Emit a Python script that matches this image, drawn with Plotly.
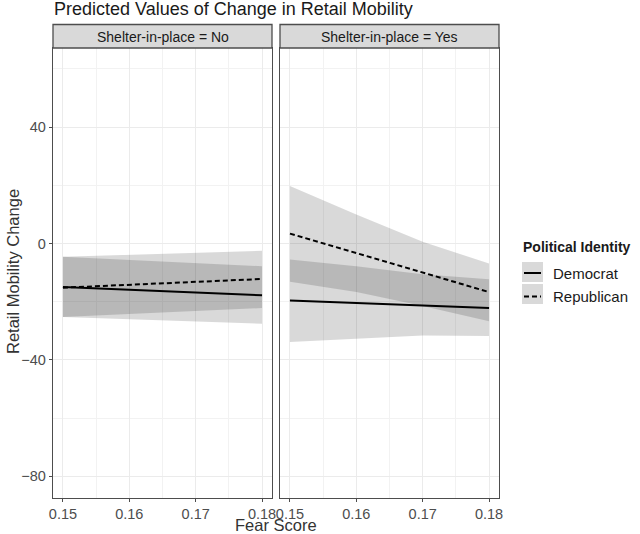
import plotly.graph_objects as go
from plotly.subplots import make_subplots

# fear score grid used for predictions
fear = [0.15, 0.16, 0.17, 0.18]

# Shelter-in-place = No
dem_no_fit = [-15.0, -15.9, -16.9, -17.8]
dem_no_lo = [-25.3, -26.1, -26.8, -27.6]
dem_no_hi = [-4.6, -5.7, -6.7, -7.8]
rep_no_fit = [-15.2, -14.2, -13.2, -12.2]
rep_no_lo = [-25.3, -24.3, -23.2, -22.2]
rep_no_hi = [-4.6, -3.9, -3.2, -2.5]

# Shelter-in-place = Yes
dem_yes_fit = [-19.6, -20.5, -21.3, -22.2]
dem_yes_lo = [-33.9, -32.7, -31.6, -31.8]
dem_yes_hi = [-5.5, -7.8, -10.6, -12.3]
rep_yes_fit = [3.4, -3.3, -10.0, -16.7]
rep_yes_lo = [-13.2, -16.7, -21.5, -26.7]
rep_yes_hi = [19.8, 10.0, 0.6, -6.9]

panels = ["Shelter-in-place = No", "Shelter-in-place = Yes"]
groups = ["Democrat", "Republican"]

# body margin is removed in the page (see write_html), so figure == window
W, H = 640, 534
FONT = "Liberation Sans, Arial, sans-serif"
BORDER = "#4D4D4D"


def px(x):
    return x / W


def py(y):
    return 1 - y / H


fig = make_subplots(rows=1, cols=2, shared_yaxes=True)

data = {
    1: [(dem_no_fit, dem_no_lo, dem_no_hi), (rep_no_fit, rep_no_lo, rep_no_hi)],
    2: [(dem_yes_fit, dem_yes_lo, dem_yes_hi), (rep_yes_fit, rep_yes_lo, rep_yes_hi)],
}
dashes = {"Democrat": "solid", "Republican": "5px,3px"}

for col in (1, 2):
    # ribbons first
    for fit, lo, hi in data[col]:
        fig.add_trace(go.Scatter(x=fear, y=lo, mode="lines", line=dict(width=0),
                                 showlegend=False, hoverinfo="skip"), row=1, col=col)
        fig.add_trace(go.Scatter(x=fear, y=hi, mode="lines", line=dict(width=0),
                                 fill="tonexty", fillcolor="rgba(0,0,0,0.15)",
                                 showlegend=False, hoverinfo="skip"), row=1, col=col)
    for g, (fit, lo, hi) in zip(groups, data[col]):
        fig.add_trace(go.Scatter(x=fear, y=fit, mode="lines", name=g,
                                 line=dict(color="black", width=2, dash=dashes[g]),
                                 showlegend=False), row=1, col=col)

# panel geometry in window pixels
left = [(53, 272), (280, 499)]
top, bottom = 48, 498
ydom = [py(bottom), py(top)]

for i, (x0, x1) in enumerate(left, start=1):
    fig.update_xaxes(domain=[px(x0), px(x1)], range=[0.1485, 0.1815],
                     tickvals=[0.15, 0.16, 0.17, 0.18],
                     ticktext=["0.15", "0.16", "0.17", "0.18"],
                     ticks="outside", ticklen=3, tickcolor=BORDER,
                     ticklabelstandoff=-1,
                     tickfont=dict(size=14.5, color="#4D4D4D", family=FONT),
                     showgrid=True, gridcolor="#EBEBEB", gridwidth=1,
                     minor=dict(tickvals=[0.155, 0.165, 0.175], showgrid=True,
                                gridcolor="#F2F2F2", gridwidth=0.6),
                     showline=True, mirror=True, linecolor=BORDER, linewidth=1.3,
                     zeroline=False, automargin=False, row=1, col=i)
    fig.update_yaxes(domain=ydom, range=[-87.5, 67.2],
                     tickvals=[40, 0, -40, -80],
                     ticks="outside" if i == 1 else "", ticklen=3, tickcolor=BORDER,
                     showticklabels=(i == 1),
                     tickfont=dict(size=14.5, color="#4D4D4D", family=FONT),
                     showgrid=True, gridcolor="#EBEBEB", gridwidth=1,
                     minor=dict(tickvals=[60, 20, -20, -60], showgrid=True,
                                gridcolor="#F2F2F2", gridwidth=0.6),
                     showline=True, mirror=True, linecolor=BORDER, linewidth=1.3,
                     zeroline=False, automargin=False, row=1, col=i)

    # facet strip
    fig.add_shape(type="rect", xref="paper", yref="paper",
                  x0=px(x0), x1=px(x1), y0=py(top), y1=py(24.5),
                  fillcolor="#D9D9D9", line=dict(color=BORDER, width=1.3))
    fig.add_annotation(text=panels[i - 1], xref="paper", yref="paper",
                       x=px((x0 + x1) / 2), y=py(36.5), showarrow=False,
                       xanchor="center", yanchor="middle",
                       font=dict(size=14, color="#1A1A1A", family=FONT))

# title (its top sits right at the edge, as in the source)
fig.add_annotation(text="Predicted Values of Change in Retail Mobility",
                   xref="paper", yref="paper", x=px(52), y=py(9),
                   xanchor="left", yanchor="middle", showarrow=False,
                   font=dict(size=18, color="#1A1A1A", family=FONT))

# axis titles
fig.add_annotation(text="Fear Score", xref="paper", yref="paper",
                   x=px(276), y=py(525), showarrow=False,
                   xanchor="center", yanchor="middle",
                   font=dict(size=16.5, color="#333333", family=FONT))
fig.add_annotation(text="Retail Mobility Change", xref="paper", yref="paper",
                   x=px(13), y=py(272), showarrow=False, textangle=-90,
                   xanchor="center", yanchor="middle",
                   font=dict(size=16.5, color="#333333", family=FONT))

# legend: grey key boxes with line samples
fig.add_annotation(text="<b>Political Identity</b>", xref="paper", yref="paper",
                   x=px(521), y=py(247), showarrow=False,
                   xanchor="left", yanchor="middle",
                   font=dict(size=14, color="#1A1A1A", family=FONT))
key_rows = [(262, 282, 273), (284, 304, 296.5)]
for g, (k0, k1, kc) in zip(groups, key_rows):
    fig.add_shape(type="rect", xref="paper", yref="paper",
                  x0=px(522), x1=px(543), y0=py(k1), y1=py(k0),
                  fillcolor="#D9D9D9", line=dict(width=0))
    fig.add_shape(type="line", xref="paper", yref="paper",
                  x0=px(524), x1=px(541), y0=py(kc), y1=py(kc),
                  line=dict(color="black", width=2, dash=dashes[g]))
    fig.add_annotation(text=g, xref="paper", yref="paper",
                       x=px(551), y=py(kc), showarrow=False,
                       xanchor="left", yanchor="middle",
                       font=dict(size=15, color="#1A1A1A", family=FONT))

fig.update_layout(
    width=W, height=H,
    margin=dict(l=0, r=0, t=0, b=0),
    paper_bgcolor="white", plot_bgcolor="white",
    showlegend=False,
)

fig.write_html("out.html",
               config={"displayModeBar": False},
               post_script="document.body.style.margin='0';"
                           "document.body.style.overflow='hidden';")
